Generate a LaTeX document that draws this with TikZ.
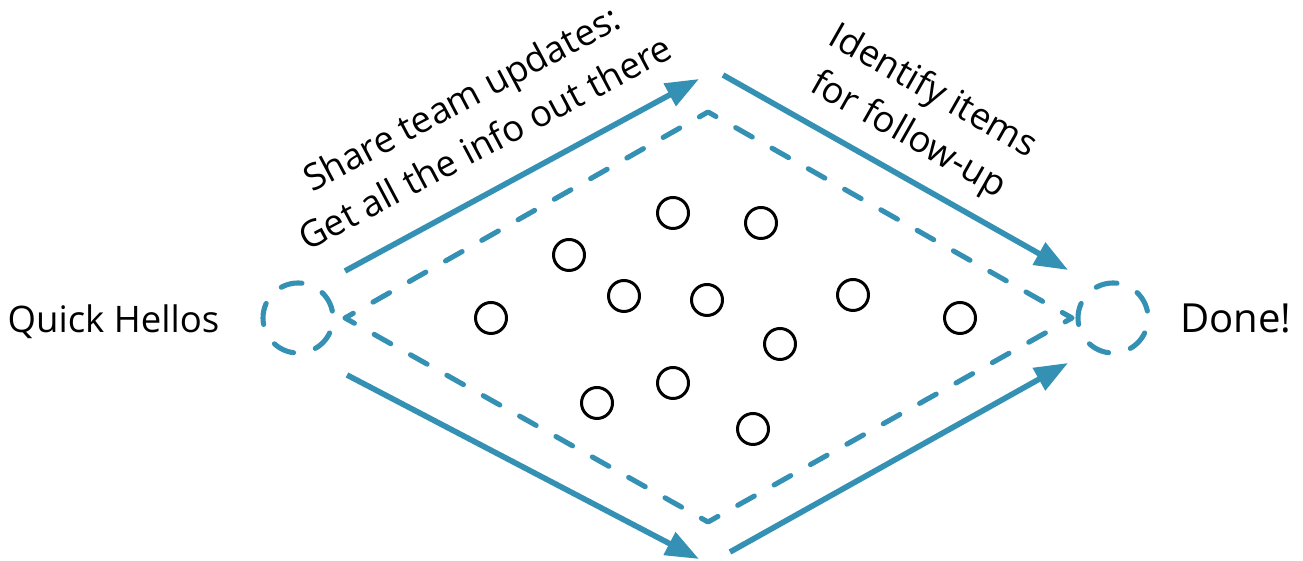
\documentclass[tikz,border=0pt]{standalone}
\usepackage{fontspec}
\setmainfont{Open Sans}
\usetikzlibrary{arrows.meta,positioning}
\definecolor{flowblue}{RGB}{52,145,180}

\begin{document}
\begin{tikzpicture}[
        flow/.style={draw=flowblue, line width=1.6pt, -{Triangle[length=9.5pt,width=7pt]}},
        phase/.style={circle, draw=flowblue, line width=1.45pt, line cap=round, minimum size=0.7cm, inner sep=0pt,
            dash pattern=on 0.214cm off 0.226cm, dash phase=0.37cm},
        dot/.style={circle, draw, line width=0.85pt, minimum size=0.31cm, inner sep=0pt},
        label text/.style={font=\fontsize{10.4}{14.3}\selectfont, align=center}
    ]
    \useasboundingbox (0,0) rectangle (13.03,5.61);

    \node[phase] (start) at (2.98,2.43) {};
    \node[phase] (done) at (11.13,2.43) {};
    \node[label text, anchor=base] (hello) at (1.135,2.28) {Quick Hellos};
    \node[label text, anchor=base, font=\fontsize{11.4}{14}\selectfont] (finish) at (12.36,2.28) {Done!};

    \coordinate (dl) at (3.45,2.43);
    \coordinate (dt) at (7.08,4.49);
    \coordinate (dr) at (10.72,2.43);
    \coordinate (db) at (7.08,0.39);
    \draw[flowblue, line width=1.45pt, line cap=round, line join=round,
        dash pattern=on 0.19cm off 0.227cm, dash phase=0.095cm]
        (dl) -- (dt) -- (dr) -- (db) -- cycle;

    \coordinate (a1) at (3.45,2.90);
    \coordinate (a2) at (6.99,4.82);
    \coordinate (b1) at (7.23,4.86);
    \coordinate (b2) at (10.68,2.91);
    \coordinate (c1) at (3.47,1.86);
    \coordinate (c2) at (6.99,0.02);
    \coordinate (e1) at (7.30,0.09);
    \coordinate (e2) at (10.68,1.98);
    \draw[flow] (a1) -- (a2);
    \draw[flow] (b1) -- (b2);
    \draw[flow] (c1) -- (c2);
    \draw[flow] (e1) -- (e2);

    \node[label text, rotate=28] (share) at (4.73,4.41) {Share team updates:\\Get all the info out there};
    \node[label text, rotate=-29.6] (follow) at (9.20,4.47) {Identify items\\for follow-up};

    \foreach \x/\y [count=\i] in {4.91/2.43, 5.69/3.06, 6.24/2.65, 6.73/3.48, 7.61/3.38, 7.07/2.61,
        7.80/2.17, 8.53/2.66, 9.60/2.43, 5.97/1.58, 6.73/1.78, 7.53/1.32}
        \node[dot] (p\i) at (\x,\y) {};
\end{tikzpicture}
\end{document}
